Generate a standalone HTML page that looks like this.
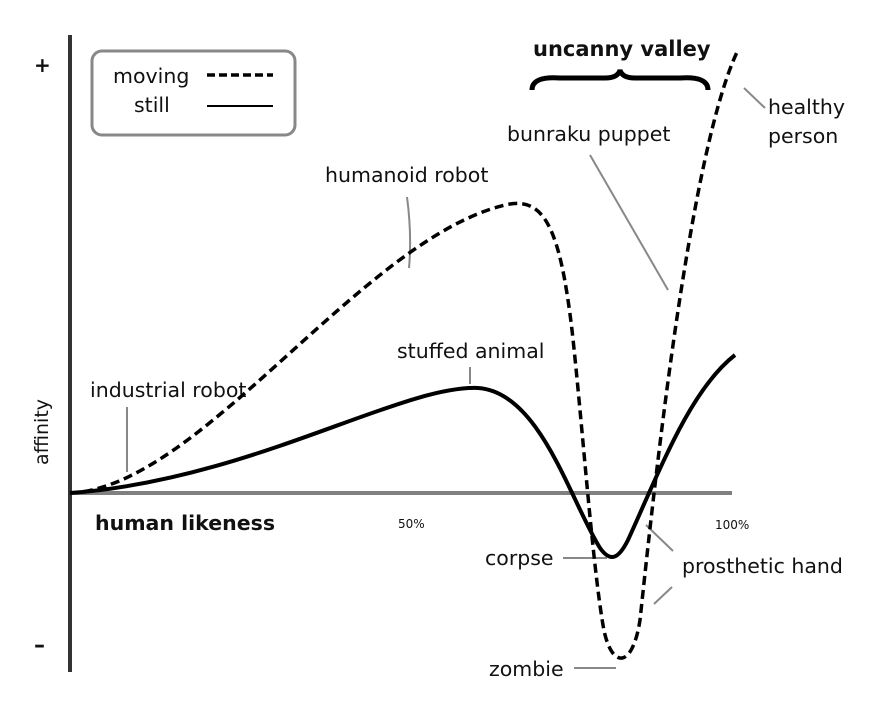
<!DOCTYPE html>
<html><head><style>
body{margin:0;background:#fff}
svg{display:block}
text{font-family:"DejaVu Sans","Liberation Sans",sans-serif;fill:#111}
</style></head><body>
<svg width="894" height="720" viewBox="0 0 894 720" xmlns="http://www.w3.org/2000/svg">
<rect width="894" height="720" fill="#fff"/>
<line x1="70" y1="35" x2="70" y2="672" stroke="#333" stroke-width="4"/>
<line x1="70" y1="493" x2="732" y2="493" stroke="#808080" stroke-width="4"/>
<text x="34" y="72" font-size="20" font-weight="bold">+</text>
<text x="34" y="652" font-size="22" font-weight="bold">–</text>
<text transform="translate(48,432) rotate(-90)" font-size="19" text-anchor="middle">affinity</text>
<text x="95" y="530" font-size="20.5" font-weight="bold">human likeness</text>
<text x="398" y="528" font-size="12">50%</text>
<text x="715" y="529" font-size="12">100%</text>
<rect x="92" y="51" width="203" height="84" rx="10" fill="none" stroke="#888" stroke-width="3"/>
<text x="113" y="83" font-size="20.5">moving</text>
<line x1="207" y1="75" x2="273" y2="75" stroke="#000" stroke-width="3.5" stroke-dasharray="8,4"/>
<text x="134" y="112" font-size="20.5">still</text>
<line x1="207" y1="106" x2="273" y2="106" stroke="#000" stroke-width="2"/>
<text x="533" y="56" font-size="21" font-weight="bold">uncanny valley</text>
<path d="M532,90 Q532,76 560,78 L605,78 Q618,78 620,70 Q622,78 635,78 L680,78 Q708,76 708,90" fill="none" stroke="#000" stroke-width="5"/>
<text x="768" y="114" font-size="20.5">healthy</text>
<text x="768" y="143" font-size="20.5">person</text>
<line x1="744" y1="88" x2="765" y2="108" stroke="#888" stroke-width="2"/>
<text x="507" y="141" font-size="20.5">bunraku puppet</text>
<line x1="590" y1="155" x2="668" y2="290" stroke="#888" stroke-width="2"/>
<text x="325" y="182" font-size="20.5">humanoid robot</text>
<path d="M407,197 Q412,235 409,268" fill="none" stroke="#888" stroke-width="2"/>
<text x="397" y="358" font-size="20.5">stuffed animal</text>
<line x1="470" y1="367" x2="470" y2="384" stroke="#888" stroke-width="2"/>
<text x="90" y="397" font-size="20.5">industrial robot</text>
<line x1="127" y1="407" x2="127" y2="472" stroke="#888" stroke-width="2"/>
<text x="485" y="565" font-size="20.5">corpse</text>
<line x1="563" y1="558" x2="607" y2="558" stroke="#888" stroke-width="2"/>
<text x="682" y="573" font-size="20.5">prosthetic hand</text>
<line x1="646" y1="525" x2="673" y2="551" stroke="#888" stroke-width="2"/>
<line x1="672" y1="587" x2="654" y2="604" stroke="#888" stroke-width="2"/>
<text x="489" y="676" font-size="20.5">zombie</text>
<line x1="574" y1="668" x2="616" y2="668" stroke="#888" stroke-width="2"/>
<path d="M70,493 C200,488 360,240 505,205 C545,195 560,230 572,330 C582,420 592,560 603,625 C610,668 632,672 640,620 C655,480 690,150 738,50" fill="none" stroke="#000" stroke-width="3.5" stroke-dasharray="9,5"/>
<path d="M70,493 C250,480 400,385 478,388 C540,392 570,500 600,548 C610,562 618,560 628,540 C660,470 690,390 735,355" fill="none" stroke="#000" stroke-width="4"/>
</svg>
</body></html>
